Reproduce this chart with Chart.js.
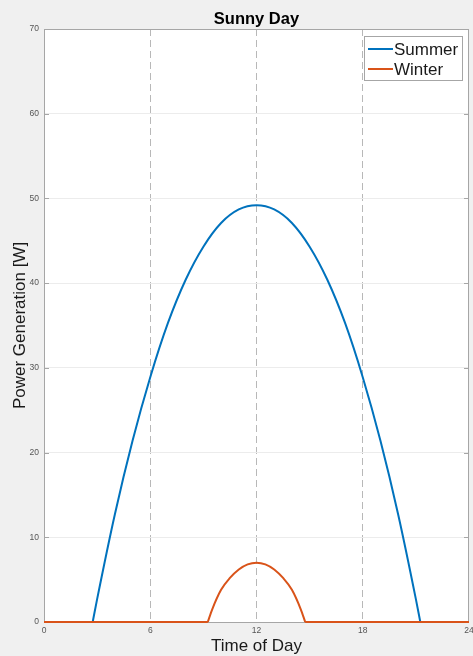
<!DOCTYPE html>
<html>
<head>
<meta charset="utf-8">
<script src="https://cdn.jsdelivr.net/npm/chart.js@4"></script>
<style>
  html, body { margin: 0; padding: 0; background: #f0f0f0; }
  #wrap { width: 473px; height: 656px; }
</style>
</head>
<body>
<div id="wrap"><canvas id="sunGraph" width="473" height="656"></canvas></div>
<script>
// null entries only split the flat night part from the daylight arc
const summerHours = [0, 2.75, null, 2.75, 3, 4, 5, 6, 7, 8, 9, 10, 11, 12, 13, 14, 15, 16, 17, 18, 19, 20, 21, 21.25, null, 21.25, 24];
const summerPower = [0, 0, null, 0, 2.7, 12.7, 21.4, 28.9, 35.3, 40.4, 44.3, 47.1, 48.7, 49.2, 48.7, 47.1, 44.3, 40.4, 35.3, 28.9, 21.4, 12.7, 2.7, 0, null, 0, 0];
const winterHours = [0, 9.25, null, 9.25, 9.5, 10, 10.5, 11, 11.5, 12, 12.5, 13, 13.5, 14, 14.5, 14.75, null, 14.75, 24];
const winterPower = [0, 0, null, 0, 1.5, 3.8, 5.2, 6.2, 6.8, 7.0, 6.8, 6.2, 5.2, 3.8, 1.5, 0, null, 0, 0];
const xTicks = [0, 6, 12, 18, 24];
const yTicks = [0, 10, 20, 30, 40, 50, 60, 70];
const seriesNames = ["Summer", "Winter"];
const seriesColors = ["#0072bd", "#d95319"];

const fontFamily = "'Liberation Sans', Arial, Helvetica, sans-serif";

function toPoints(xs, ys) {
    return xs.map((x, i) => ({x: x === null ? NaN : x, y: ys[i]}));
}

const framePlugin = {
    id: "frame",
    beforeDraw(chart) {
        const {ctx, chartArea: a} = chart;
        ctx.save();
        ctx.fillStyle = "#ffffff";
        ctx.fillRect(a.left, a.top, a.right - a.left, a.bottom - a.top);
        ctx.restore();
    },
    beforeDatasetsDraw(chart) {
        const {ctx, chartArea: a} = chart;
        const yScale = chart.scales.y;
        ctx.save();
        ctx.strokeStyle = "#a6a6a6";
        ctx.lineWidth = 1;
        ctx.strokeRect(a.left + 0.5, a.top + 0.5, a.right - a.left - 1, a.bottom - a.top);
        ctx.beginPath();
        yTicks.forEach(v => {
            const py = Math.round(yScale.getPixelForValue(v)) + 0.5;
            ctx.moveTo(a.left, py); ctx.lineTo(a.left + 5, py);
            ctx.moveTo(a.right - 5, py); ctx.lineTo(a.right, py);
        });
        ctx.stroke();
        ctx.restore();
    },
    afterDraw(chart) {
        const {ctx, chartArea: a} = chart;
        ctx.save();
        // title
        ctx.fillStyle = "#000000";
        ctx.font = "bold 16.5px " + fontFamily;
        ctx.textAlign = "center";
        ctx.textBaseline = "alphabetic";
        ctx.fillText("Sunny Day", (a.left + a.right) / 2, 24);
        // legend box
        const lx = 364.5, ly = 36.5, lw = 98, lh = 44;
        ctx.fillStyle = "#ffffff";
        ctx.fillRect(lx, ly, lw, lh);
        ctx.strokeStyle = "#a6a6a6";
        ctx.lineWidth = 1;
        ctx.strokeRect(lx, ly, lw, lh);
        ctx.font = "17px " + fontFamily;
        ctx.textAlign = "left";
        ctx.textBaseline = "middle";
        seriesNames.forEach((name, i) => {
            const yy = 49 + i * 20;
            ctx.strokeStyle = seriesColors[i];
            ctx.lineWidth = 2;
            ctx.beginPath();
            ctx.moveTo(368, yy); ctx.lineTo(393, yy);
            ctx.stroke();
            ctx.fillStyle = "#1a1a1a";
            ctx.fillText(name, 394, yy + 1);
        });
        ctx.restore();
    }
};

const sunChart = new Chart(document.getElementById("sunGraph").getContext("2d"), {
    type: "line",
    data: {
        datasets: [{
            label: seriesNames[0],
            data: toPoints(summerHours, summerPower),
            borderColor: seriesColors[0],
            backgroundColor: seriesColors[0],
            borderWidth: 2,
            pointRadius: 0,
            cubicInterpolationMode: "monotone",
            spanGaps: false,
            fill: false,
            clip: false,
            order: 1
        }, {
            label: seriesNames[1],
            data: toPoints(winterHours, winterPower),
            borderColor: seriesColors[1],
            backgroundColor: seriesColors[1],
            borderWidth: 2,
            pointRadius: 0,
            cubicInterpolationMode: "monotone",
            spanGaps: false,
            fill: false,
            clip: false,
            order: 0
        }]
    },
    options: {
        responsive: false,
        animation: false,
        devicePixelRatio: 1,
        parsing: {xAxisKey: "x", yAxisKey: "y"},
        layout: {
            padding: {top: 29, right: 4, left: 0, bottom: 0}
        },
        plugins: {
            legend: {display: false},
            title: {display: false},
            tooltip: {enabled: false}
        },
        scales: {
            x: {
                type: "linear",
                min: 0,
                max: 24,
                afterBuildTicks: scale => { scale.ticks = xTicks.map(v => ({value: v})); },
                afterFit: scale => { scale.height = 34; scale.paddingRight = 0; },
                grid: {
                    drawTicks: false,
                    lineWidth: 1,
                    color: ctx => (ctx.tick && (ctx.tick.value === 0 || ctx.tick.value === 24)) ? "rgba(0,0,0,0)" : "#b8b8b8"
                },
                border: {display: false, dash: [7, 4]},
                ticks: {
                    padding: 4,
                    color: "#555555",
                    font: {family: fontFamily, size: 8.5},
                    maxRotation: 0
                },
                title: {
                    display: true,
                    text: "Time of Day",
                    color: "#1a1a1a",
                    font: {family: fontFamily, size: 17, lineHeight: 1},
                    padding: {top: 0, bottom: 1.5}
                }
            },
            y: {
                type: "linear",
                min: 0,
                max: 70,
                afterBuildTicks: scale => { scale.ticks = yTicks.map(v => ({value: v})); },
                afterFit: scale => { scale.width = 44; },
                grid: {
                    drawTicks: false,
                    lineWidth: 1,
                    color: ctx => (ctx.tick && (ctx.tick.value === 0 || ctx.tick.value === 70)) ? "rgba(0,0,0,0)" : "#ececec"
                },
                border: {display: false},
                ticks: {
                    padding: 5,
                    color: "#555555",
                    font: {family: fontFamily, size: 8.5}
                },
                title: {
                    display: true,
                    text: "Power Generation [W]",
                    color: "#1a1a1a",
                    font: {family: fontFamily, size: 17, lineHeight: 1},
                    padding: {top: 12, bottom: 0}
                }
            }
        }
    },
    plugins: [framePlugin]
});
</script>
</body>
</html>
